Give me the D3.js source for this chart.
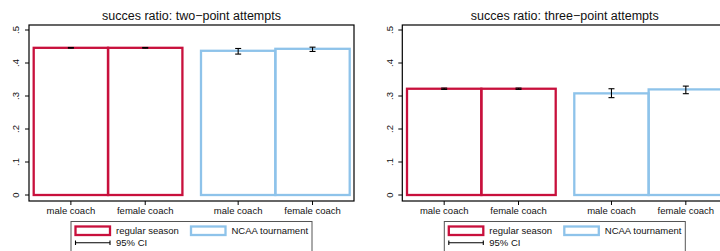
<!DOCTYPE html>
<html>
<head>
<meta charset="utf-8">
<script src="https://cdn.jsdelivr.net/npm/d3@7"></script>
<style>
  body { margin: 0; background: #fff; }
  svg { display: block; font-family: "Liberation Sans", Arial, sans-serif; }
</style>
</head>
<body>
<div id="chart"></div>
<script>
// data
const categories = ['male coach', 'female coach'];
const seriesNames = ['regular season', 'NCAA tournament'];
const yTicks = [0, 0.1, 0.2, 0.3, 0.4, 0.5];
const yTickLabels = ['0', '.1', '.2', '.3', '.4', '.5'];

const titles = ['succes ratio: two\u2212point attempts', 'succes ratio: three\u2212point attempts'];

// [series][category]
const twoMean = [[0.446, 0.446], [0.437, 0.443]];
const twoLow  = [[0.445, 0.445], [0.427, 0.435]];
const twoHigh = [[0.447, 0.447], [0.444, 0.448]];

const threeMean = [[0.322, 0.322], [0.308, 0.320]];
const threeLow  = [[0.320, 0.320], [0.295, 0.307]];
const threeHigh = [[0.324, 0.324], [0.322, 0.330]];

const colors = ['#c8103c', '#8ec3ea'];

const W = 720, H = 251;
const svg = d3.select('#chart').append('svg').attr('width', W).attr('height', H);

function drawPanel(offsetX, title, mean, low, high) {
  const frame = { left: 29, right: 354, top: 25, bottom: 201 };
  const g = svg.append('g').attr('transform', `translate(${offsetX},0)`);

  const y = d3.scaleLinear().domain([0, 0.5]).range([195, 30]);
  // bar slots: group 2 starts after a quarter-bar gap
  const x = d3.scaleLinear().domain([0, 4.25]).range([33.7, 349.7]);

  const bars = [];
  mean.forEach((row, s) => row.forEach((v, c) => {
    const start = s * 2.25 + c;
    bars.push({ s, c, v, lo: low[s][c], hi: high[s][c], start });
  }));

  // title
  g.append('text')
    .attr('x', (frame.left + frame.right) / 2)
    .attr('y', 20)
    .attr('text-anchor', 'middle')
    .style('font-size', '12.5px')
    .style('fill', '#111')
    .text(title);

  // frame
  g.append('rect')
    .attr('x', frame.left).attr('y', frame.top)
    .attr('width', frame.right - frame.left)
    .attr('height', frame.bottom - frame.top)
    .attr('fill', 'none')
    .attr('stroke', '#000')
    .attr('stroke-width', 1.2);

  // y axis
  const ya = g.append('g').attr('transform', `translate(${frame.left},0)`)
    .call(d3.axisLeft(y).tickValues(yTicks).tickSize(4).tickFormat((d, i) => yTickLabels[i]));
  ya.select('.domain').remove();
  ya.selectAll('.tick').attr('transform', null);
  ya.selectAll('.tick line')
    .attr('stroke', '#000')
    .attr('transform', d => `translate(0,${y(d)})`);
  ya.selectAll('.tick text')
    .attr('x', 0).attr('y', 0)
    .attr('transform', d => `translate(-13,${y(d)}) rotate(-90)`)
    .attr('dy', '0.35em')
    .attr('text-anchor', 'middle')
    .style('font-size', '9.5px')
    .style('fill', '#111');

  // bars
  g.selectAll('.bar').data(bars).enter().append('rect')
    .attr('class', 'bar')
    .attr('x', d => x(d.start))
    .attr('y', d => y(d.v))
    .attr('width', d => x(d.start + 1) - x(d.start))
    .attr('height', d => y(0) - y(d.v))
    .attr('fill', 'none')
    .attr('stroke', d => colors[d.s])
    .attr('stroke-width', 2.3);

  // CI error bars
  const eb = g.selectAll('.ci').data(bars).enter().append('g').attr('class', 'ci')
    .attr('stroke', '#000').attr('stroke-width', 1.1);
  eb.append('line')
    .attr('x1', d => x(d.start + 0.5)).attr('x2', d => x(d.start + 0.5))
    .attr('y1', d => y(d.lo)).attr('y2', d => y(d.hi));
  eb.append('line')
    .attr('x1', d => x(d.start + 0.5) - 3).attr('x2', d => x(d.start + 0.5) + 3)
    .attr('y1', d => y(d.lo)).attr('y2', d => y(d.lo));
  eb.append('line')
    .attr('x1', d => x(d.start + 0.5) - 3).attr('x2', d => x(d.start + 0.5) + 3)
    .attr('y1', d => y(d.hi)).attr('y2', d => y(d.hi));

  // x ticks and labels
  g.selectAll('.xtick').data(bars).enter().append('line')
    .attr('x1', d => x(d.start + 0.5)).attr('x2', d => x(d.start + 0.5))
    .attr('y1', frame.bottom).attr('y2', frame.bottom + 4)
    .attr('stroke', '#000');
  g.selectAll('.xlab').data(bars).enter().append('text')
    .attr('x', d => x(d.start + 0.5))
    .attr('y', 213.5)
    .attr('text-anchor', 'middle')
    .style('font-size', '9.5px')
    .style('fill', '#111')
    .text(d => categories[d.c]);

  // legend
  const lg = g.append('g');
  lg.append('rect')
    .attr('x', 71).attr('y', 221.5).attr('width', 241).attr('height', 40)
    .attr('fill', '#fff').attr('stroke', '#555').attr('stroke-width', 1);
  const items = [{ x: 75.5, name: seriesNames[0], c: colors[0] }, { x: 191, name: seriesNames[1], c: colors[1] }];
  items.forEach(it => {
    lg.append('rect').attr('x', it.x).attr('y', 226.5).attr('width', 34.5).attr('height', 8.5)
      .attr('fill', '#fff').attr('stroke', it.c).attr('stroke-width', 2.3);
    lg.append('text').attr('x', it.x + 40.5).attr('y', 234.2)
      .style('font-size', '9.5px').style('fill', '#111').text(it.name);
  });
  lg.append('line').attr('x1', 75.5).attr('x2', 110).attr('y1', 242.7).attr('y2', 242.7)
    .attr('stroke', '#000').attr('stroke-width', 1.1);
  [75.5, 110].forEach(px => lg.append('line').attr('x1', px).attr('x2', px)
    .attr('y1', 240.5).attr('y2', 245).attr('stroke', '#000').attr('stroke-width', 1.1));
  lg.append('text').attr('x', 116).attr('y', 246.2)
    .style('font-size', '9.5px').style('fill', '#111').text('95% CI');
}

drawPanel(0, titles[0], twoMean, twoLow, twoHigh);
drawPanel(373.3, titles[1], threeMean, threeLow, threeHigh);
</script>
</body>
</html>
